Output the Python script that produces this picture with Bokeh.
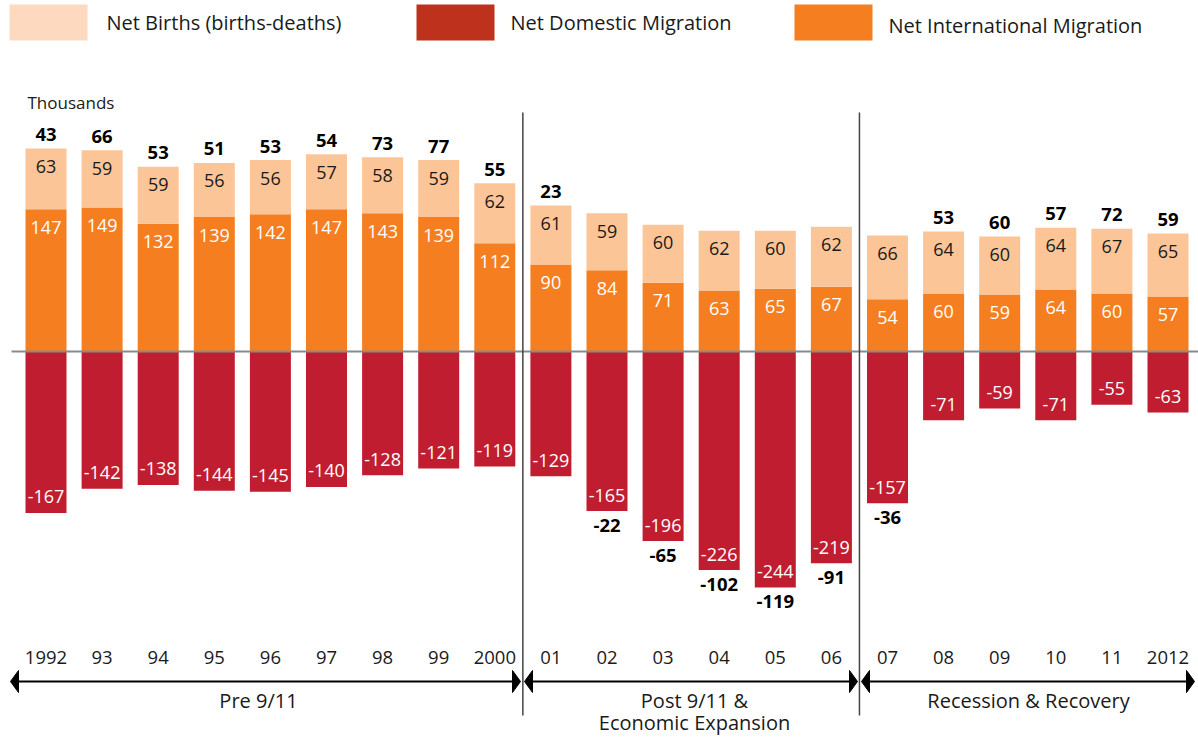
from bokeh.plotting import figure
from bokeh.models import Range1d, ColumnDataSource
from bokeh.core.properties import value
from bokeh.embed import file_html
from bokeh.resources import INLINE

# ---------------- data (thousands) ----------------
years = ["1992", "93", "94", "95", "96", "97", "98", "99", "2000",
         "01", "02", "03", "04", "05", "06",
         "07", "08", "09", "10", "11", "2012"]
intl = [147, 149, 132, 139, 142, 147, 143, 139, 112,
        90, 84, 71, 63, 65, 67,
        54, 60, 59, 64, 60, 57]
births = [63, 59, 59, 56, 56, 57, 58, 59, 62,
          61, 59, 60, 62, 60, 62,
          66, 64, 60, 64, 67, 65]
domestic = [-167, -142, -138, -144, -145, -140, -128, -121, -119,
            -129, -165, -196, -226, -244, -219,
            -157, -71, -59, -71, -55, -63]
totals = [43, 66, 53, 51, 53, 54, 73, 77, 55,
          23, -22, -65, -102, -119, -91,
          -36, 53, 60, 57, 72, 59]
periods = ["Pre 9/11", "Post 9/11 &\nEconomic Expansion", "Recession & Recovery"]
period_bounds = [(0, 8), (9, 14), (15, 20)]
legend_labels = ["Net Births (births-deaths)", "Net Domestic Migration", "Net International Migration"]

# ---------------- styling ----------------
C_BIRTH = "#FCC597"
C_INTL = "#F47E20"
C_DOM = "#C01E30"
LEG_COLORS = ["#FDD9BF", "#BE311D", "#F47E20"]
FONT = "Open Sans"
TXT = "#1a1a1a"

W, H = 1198, 737
X_STEP = 56.1      # px per category
Y_K = 0.967        # px per thousand
X0_PAGE = 45.5     # page x of first bar centre
Y0_PAGE = 351      # page y of zero line


def dx(page_x):
    return (page_x - X0_PAGE) / X_STEP


def dy(page_y):
    return (Y0_PAGE - page_y) / Y_K


def pxu(px):  # pixel length -> data units (y)
    return px / Y_K


p = figure(width=W, height=H, output_backend="svg", toolbar_location=None,
           x_range=Range1d(dx(0), dx(W)), y_range=Range1d(dy(H), dy(0)),
           min_border=0, outline_line_color=None)
p.axis.visible = False
p.grid.visible = False
p.background_fill_color = "white"

n = len(years)
xs = list(range(n))
stack_top = [i + b for i, b in zip(intl, births)]
src = ColumnDataSource(dict(
    x=xs, intl=intl, births=births, dom=domestic, top=stack_top, zero=[0] * n,
))

bw = 41 / X_STEP
p.vbar(x="x", bottom="zero", top="intl", width=bw, source=src, fill_color=C_INTL, line_color=None)
p.vbar(x="x", bottom="intl", top="top", width=bw, source=src, fill_color=C_BIRTH, line_color=None)
p.vbar(x="x", bottom="dom", top="zero", width=bw, source=src, fill_color=C_DOM, line_color=None)

# zero line
p.line([dx(11), dx(W)], [0, 0], line_color="#8a8a8a", line_width=2)

# period separators
for a, b in period_bounds[:-1]:
    xsep = b + 0.5
    p.line([xsep, xsep], [dy(112), dy(715)], line_color="#444444", line_width=1.5)

# segment labels
SEG = "18px"
off = pxu(18)
p.text(x=xs, y=[v - off for v in intl], text=[str(v) for v in intl],
       text_align="center", text_baseline="middle", text_color="white",
       text_font=value(FONT), text_font_size=SEG)
p.text(x=xs, y=[t - off for t in stack_top], text=[str(v) for v in births],
       text_align="center", text_baseline="middle", text_color=TXT,
       text_font=value(FONT), text_font_size=SEG)
p.text(x=xs, y=[d + pxu(16) for d in domestic], text=[str(v) for v in domestic],
       text_align="center", text_baseline="middle", text_color="white",
       text_font=value(FONT), text_font_size=SEG)

# total labels
tot_y = []
for t, top, d in zip(totals, stack_top, domestic):
    tot_y.append(top + pxu(14) if t > 0 else d - pxu(14))
p.text(x=xs, y=tot_y, text=[str(v) for v in totals],
       text_align="center", text_baseline="middle", text_color="black",
       text_font=value(FONT), text_font_size="18.5px", text_font_style="bold")

# year labels
p.text(x=xs, y=[dy(657)] * n, text=years, text_align="center", text_baseline="middle",
       text_color=TXT, text_font=value(FONT), text_font_size="18.5px")

# "Thousands"
p.text(x=[dx(27)], y=[dy(102)], text=["Thousands"], text_align="left", text_baseline="middle",
       text_color=TXT, text_font=value(FONT), text_font_size="17px")

# period arrows
arrow_y = dy(681)
arrow_spans = [(10, 520), (524, 857), (861, 1194)]
head_len, head_half = 8, 11
for l, r in arrow_spans:
    p.line([dx(l + head_len), dx(r - head_len)], [arrow_y, arrow_y], line_color="black", line_width=2)
    p.patch([dx(l), dx(l + head_len), dx(l + head_len)],
            [arrow_y, arrow_y + pxu(head_half), arrow_y - pxu(head_half)],
            fill_color="black", line_color="black")
    p.patch([dx(r), dx(r - head_len), dx(r - head_len)],
            [arrow_y, arrow_y + pxu(head_half), arrow_y - pxu(head_half)],
            fill_color="black", line_color="black")

# period labels
period_cx = [258, 694, 1028]
for lab, cx in zip(periods, period_cx):
    lines = lab.split("\n")
    for k, ln in enumerate(lines):
        p.text(x=[dx(cx)], y=[dy(700 + 22 * k)], text=[ln], text_align="center",
               text_baseline="middle", text_color=TXT, text_font=value(FONT),
               text_font_size="20px")

# legend
sw = [(9, 87), (416, 494), (794, 872)]
tx = [106, 510, 888]
ty = [22, 22, 25]
for (l, r), c, lab, x0, y0 in zip(sw, LEG_COLORS, legend_labels, tx, ty):
    p.quad(left=[dx(l)], right=[dx(r)], top=[dy(4)], bottom=[dy(40)], fill_color=c, line_color=None)
    p.text(x=[dx(x0)], y=[dy(y0)], text=[lab], text_align="left", text_baseline="middle",
           text_color=TXT, text_font=value(FONT), text_font_size="20px")

open("out.html", "w").write(file_html(p, INLINE))
